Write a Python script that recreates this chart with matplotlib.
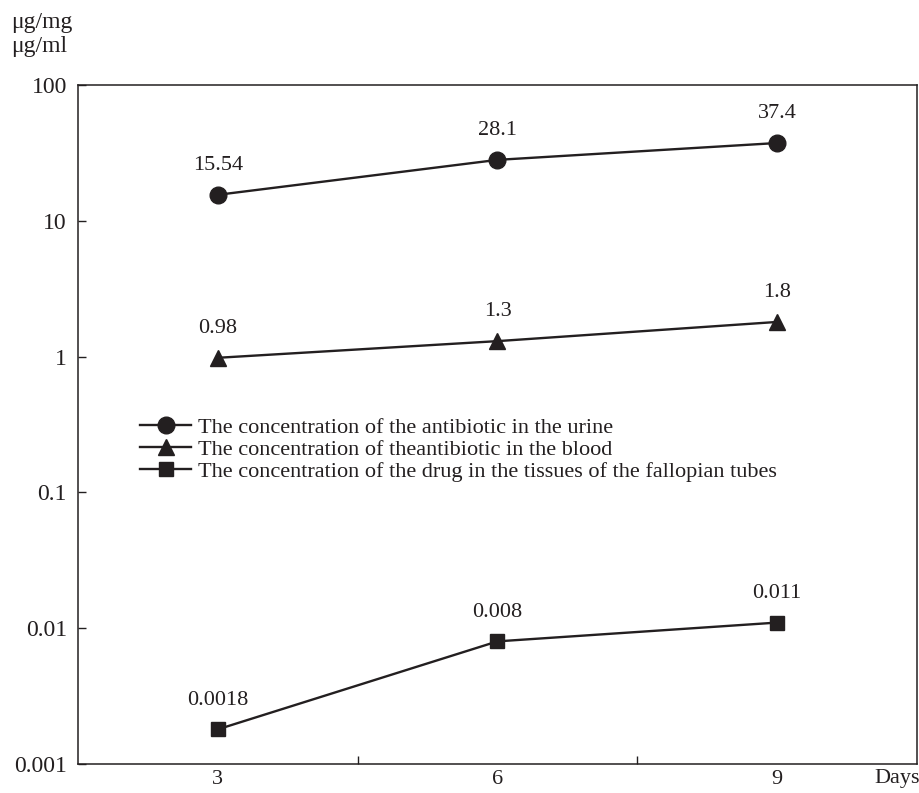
import numpy as np
import matplotlib
matplotlib.use('Agg')
import matplotlib.pyplot as plt
from matplotlib.ticker import FixedLocator, NullFormatter

plt.rcParams['font.family'] = ['Liberation Serif', 'DejaVu Serif']

# 数据
days = [3, 6, 9]
urine = [15.54, 28.1, 37.4]
blood = [0.98, 1.3, 1.8]
tubes = [0.0018, 0.008, 0.011]
urine_labels = ['15.54', '28.1', '37.4']
blood_labels = ['0.98', '1.3', '1.8']
tubes_labels = ['0.0018', '0.008', '0.011']
y_ticks = [0.001, 0.01, 0.1, 1, 10, 100]
y_tick_labels = ['0.001', '0.01', '0.1', '1', '10', '100']
legend_names = [
    'The concentration of the antibiotic in the urine',
    'The concentration of theantibiotic in the blood',
    'The concentration of the drug in the tissues of the fallopian tubes',
]

ink = '#231f20'
fs = 16

fig = plt.figure(figsize=(9.19, 7.93), dpi=100)
ax = fig.add_axes([78 / 919, 1 - 764 / 793, 839 / 919, 679 / 793])

series = [(urine, urine_labels, 'o', 12),
          (blood, blood_labels, '^', 12),
          (tubes, tubes_labels, 's', 9.5)]
for (vals, labs, mk, ms), name in zip(series, legend_names):
    ax.plot(days, vals, color=ink, lw=1.7, marker=mk, ms=ms, label=name)
    for x, v, t in zip(days, vals, labs):
        ax.annotate(t, (x, v), xytext=(0, 21), textcoords='offset points',
                    ha='center', va='center', fontsize=fs, color=ink)

ax.set_yscale('log')
ax.set_ylim(0.001, 100)
ax.set_xlim(1.5, 10.5)
ax.yaxis.set_major_locator(FixedLocator(y_ticks))
ax.set_yticklabels(y_tick_labels)
ax.yaxis.set_minor_locator(FixedLocator([]))
ax.yaxis.set_minor_formatter(NullFormatter())
ax.set_xticks(days)
ax.set_xticklabels([str(d) for d in days])
ax.xaxis.set_minor_locator(FixedLocator([4.5, 7.5]))
ax.tick_params(axis='x', which='major', length=0, pad=4, labelsize=fs, colors=ink)
ax.tick_params(axis='x', which='minor', length=6, direction='in', width=1, color=ink)
ax.tick_params(axis='y', which='major', length=6, direction='in', width=1,
               pad=8, labelsize=fs + 1, colors=ink)
for s in ax.spines.values():
    s.set_color(ink)
    s.set_linewidth(1.1)

ax.text(1.003, -0.021, 'Days', transform=ax.transAxes, ha='right', va='center',
        fontsize=fs, color=ink)
fig.text(11 / 919, 1 - 12 / 793, 'μg/mg\nμg/ml', ha='left', va='top',
         fontsize=fs + 1, color=ink, linespacing=1.2)

leg = ax.legend(loc='upper left', bbox_to_anchor=(0.074, 0.51), frameon=False,
                fontsize=fs, handlelength=2.3, handletextpad=0.3,
                labelspacing=0.05, borderpad=0, borderaxespad=0)
for t in leg.get_texts():
    t.set_color(ink)

plt.savefig('out.png', dpi=100)
